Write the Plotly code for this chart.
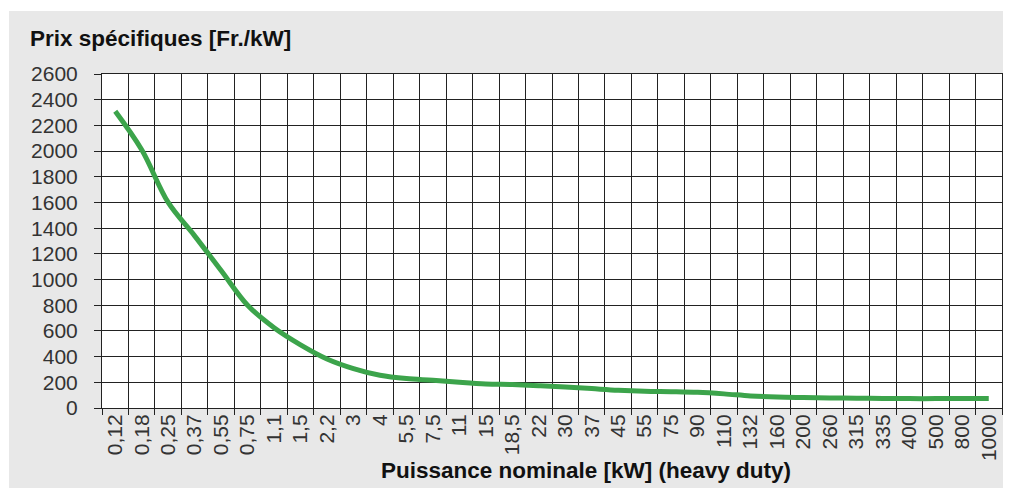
import plotly.graph_objects as go

categories = ["0,12", "0,18", "0,25", "0,37", "0,55", "0,75", "1,1", "1,5", "2,2", "3",
              "4", "5,5", "7,5", "11", "15", "18,5", "22", "30", "37", "45",
              "55", "75", "90", "110", "132", "160", "200", "260", "315", "335",
              "400", "500", "800", "1000"]
prix = [2310, 2010, 1600, 1340, 1070, 800, 625, 492, 382, 307,
        255, 229, 216, 200, 187, 182, 174, 164, 151, 138,
        130, 127, 122, 110, 94, 85, 81, 78, 76, 74,
        73, 73, 73, 73]
y_ticks = list(range(0, 2601, 200))

title_text = "Prix spécifiques [Fr./kW]"
xaxis_text = "Puissance nominale [kW] (heavy duty)"

# page has an 8px body margin; work in figure pixel coordinates
OFF = 8
W, H = 1011 - OFF, 488 - OFF
L = 102 - OFF
T = 74 - OFF
R = 1011 - 1002
B = 488 - 408
pw, ph = W - L - R, H - T - B

fig = go.Figure()
fig.add_trace(go.Scatter(
    x=categories, y=prix, mode="lines",
    line=dict(color="#3ca44b", width=5, shape="spline", smoothing=1),
    hoverinfo="skip", showlegend=False,
))

tick_font = dict(family="Liberation Sans, Arial, sans-serif", size=21, color="#333333")
bold_font = dict(family="Liberation Sans, Arial, sans-serif", size=22.5, color="#111111", weight=700)


def px_x(x):
    return (x - OFF - L) / pw


def px_y(y):
    return (T + ph - (y - OFF)) / ph


fig.update_layout(
    width=W, height=H,
    margin=dict(l=L, r=R, t=T, b=B, autoexpand=False),
    paper_bgcolor="#e8e8e8",
    plot_bgcolor="#ffffff",
    title=dict(text=title_text, x=(30 - OFF) / W, xanchor="left", xref="container",
               y=1 - (38 - OFF) / H, yanchor="middle", yref="container", font=bold_font),
    xaxis=dict(
        type="category", tickson="boundaries", tickangle=-90,
        showgrid=True, gridcolor="#222222", gridwidth=1,
        showline=True, linecolor="#222222", linewidth=1, mirror=True,
        ticks="outside", ticklen=6, tickcolor="#222222",
        tickfont=tick_font, ticklabelstandoff=-3, range=[-0.5, len(categories) - 0.5],
        fixedrange=True, automargin=False,
    ),
    yaxis=dict(
        range=[0, 2600], tickvals=y_ticks, ticktext=[str(v) for v in y_ticks],
        showgrid=True, gridcolor="#222222", gridwidth=1,
        showline=True, linecolor="#222222", linewidth=1, mirror=True,
        ticks="outside", ticklen=7, tickcolor="#222222",
        tickfont=tick_font, ticklabelstandoff=12, zeroline=False,
        fixedrange=True, automargin=False,
    ),
    annotations=[dict(
        text=xaxis_text, xref="paper", yref="paper",
        x=px_x(585.5), y=px_y(470),
        xanchor="center", yanchor="middle", showarrow=False, font=bold_font,
    )],
    shapes=[
        dict(type="rect", xref="paper", yref="paper",
             x0=px_x(0) - 0.01, x1=px_x(1011) + 0.01,
             y0=px_y(11), y1=px_y(0) + 0.01,
             fillcolor="#ffffff", line=dict(width=0), layer="above"),
        dict(type="rect", xref="paper", yref="paper",
             x0=px_x(0) - 0.01, x1=px_x(9),
             y0=px_y(488) - 0.01, y1=px_y(0) + 0.01,
             fillcolor="#ffffff", line=dict(width=0), layer="above"),
    ],
)

fig.write_html("out.html")
